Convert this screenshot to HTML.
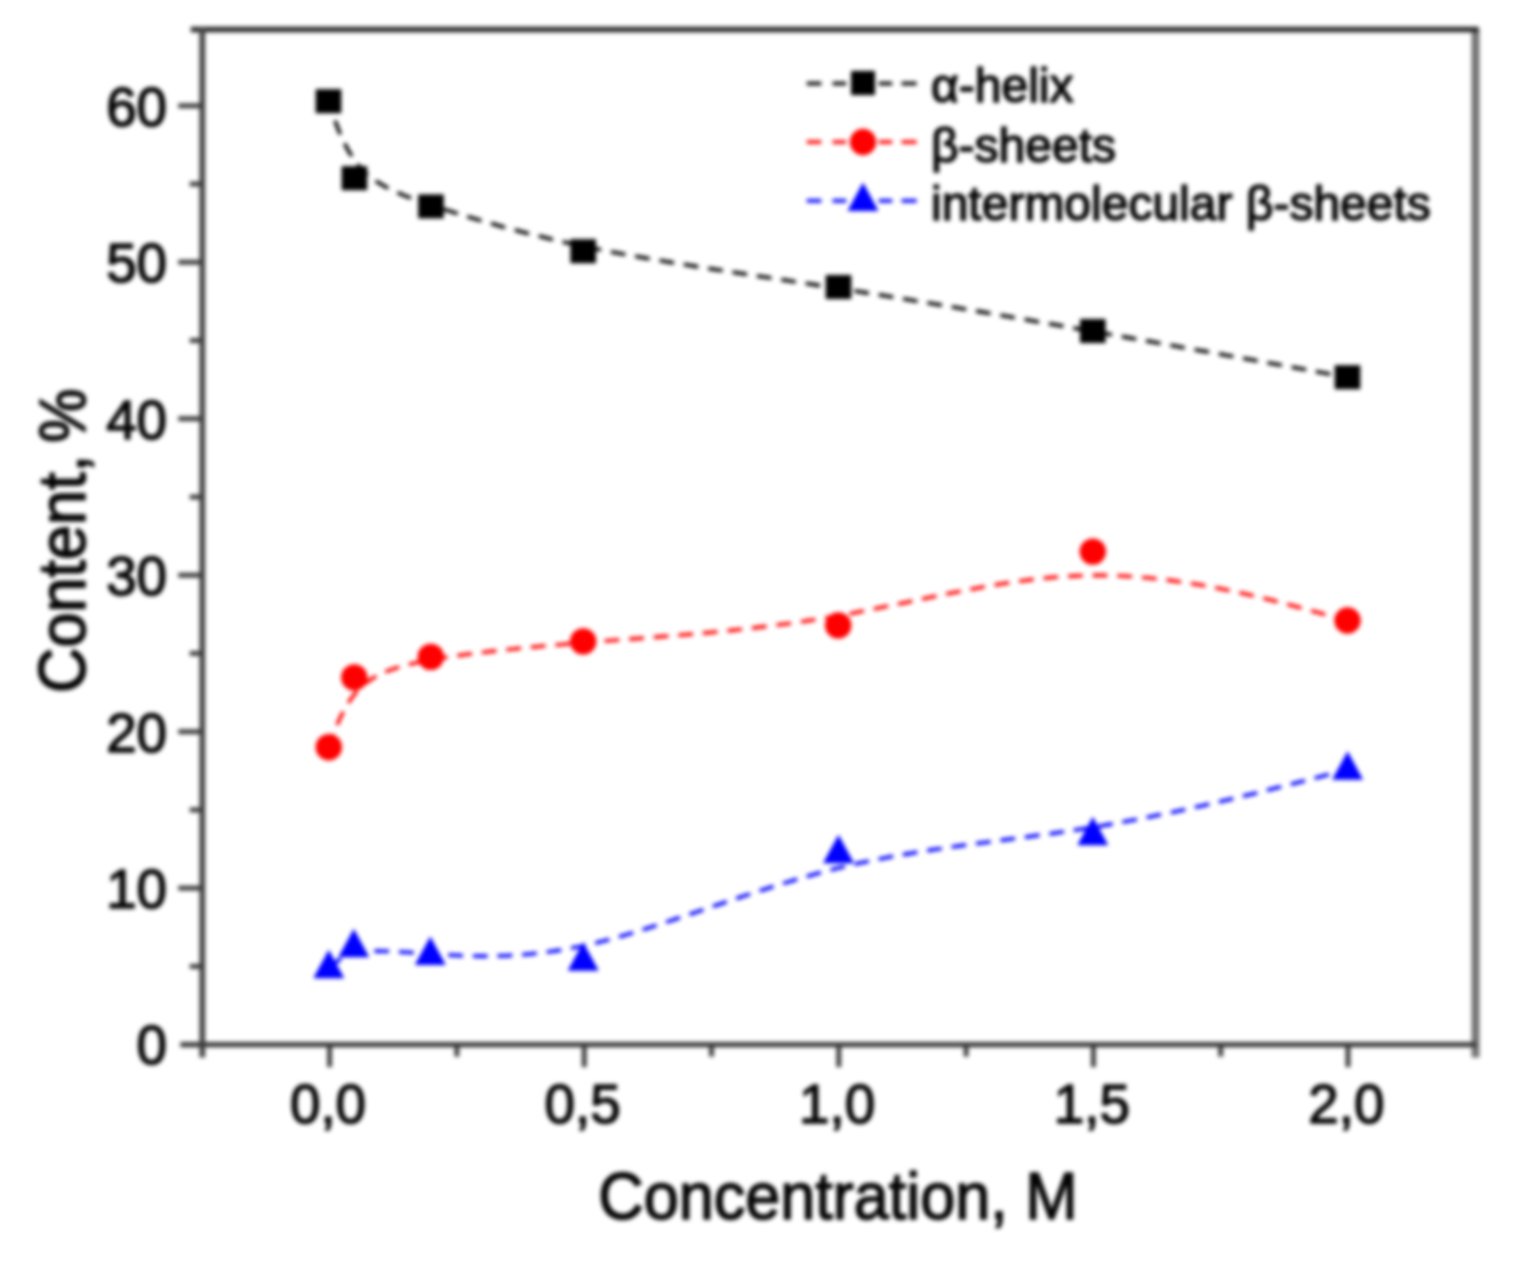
<!DOCTYPE html>
<html lang="en"><head><meta charset="utf-8"><title>Content vs Concentration</title>
<style>
html,body{margin:0;padding:0;background:#fff;}
body{width:1517px;height:1266px;overflow:hidden;}
svg{display:block;filter:blur(1.9px);}
text{font-family:"Liberation Sans",Arial,Helvetica,sans-serif;fill:#050505;stroke:#050505;stroke-width:1.5px;stroke-linejoin:round;}
.tk{font-size:54.8px;}
.ti{font-size:63px;}
.lg{font-size:48px;}
.t{stroke:#3a3a3a;stroke-width:4.8;fill:none;}
.c{fill:none;stroke-width:3.6;stroke-dasharray:14.6 10.06;}
</style></head><body>
<svg width="1517" height="1266" viewBox="0 0 1517 1266">
<rect x="-20" y="-20" width="1557" height="1306" fill="#fff"/>
<g id="axes" fill="none">
<line stroke="#747474" stroke-width="8" x1="1475.5" y1="29.5" x2="1475.5" y2="1057.6"/>
<line stroke="#2c2c2c" stroke-width="5.4" x1="190.8" y1="29.5" x2="1478.8" y2="29.5"/>
<line stroke="#444" stroke-width="5.8" x1="202.3" y1="28.0" x2="202.3" y2="1057.6"/>
<line stroke="#3c3c3c" stroke-width="5.4" x1="180.3" y1="1044.6" x2="1476.3" y2="1044.6"/>
</g>
<g id="ticks">
<line class="t" x1="189.8" y1="966.4" x2="202.3" y2="966.4"/>
<line class="t" x1="178.3" y1="888.1" x2="202.3" y2="888.1"/>
<line class="t" x1="189.8" y1="809.9" x2="202.3" y2="809.9"/>
<line class="t" x1="178.3" y1="731.7" x2="202.3" y2="731.7"/>
<line class="t" x1="189.8" y1="653.4" x2="202.3" y2="653.4"/>
<line class="t" x1="178.3" y1="575.2" x2="202.3" y2="575.2"/>
<line class="t" x1="189.8" y1="497.0" x2="202.3" y2="497.0"/>
<line class="t" x1="178.3" y1="418.7" x2="202.3" y2="418.7"/>
<line class="t" x1="189.8" y1="340.5" x2="202.3" y2="340.5"/>
<line class="t" x1="178.3" y1="262.2" x2="202.3" y2="262.2"/>
<line class="t" x1="189.8" y1="184.0" x2="202.3" y2="184.0"/>
<line class="t" x1="178.3" y1="105.8" x2="202.3" y2="105.8"/>
<line class="t" x1="329.6" y1="1044.6" x2="329.6" y2="1067.1"/>
<line class="t" x1="456.9" y1="1044.6" x2="456.9" y2="1056.6"/>
<line class="t" x1="584.2" y1="1044.6" x2="584.2" y2="1067.1"/>
<line class="t" x1="711.5" y1="1044.6" x2="711.5" y2="1056.6"/>
<line class="t" x1="838.8" y1="1044.6" x2="838.8" y2="1067.1"/>
<line class="t" x1="966.1" y1="1044.6" x2="966.1" y2="1056.6"/>
<line class="t" x1="1093.4" y1="1044.6" x2="1093.4" y2="1067.1"/>
<line class="t" x1="1220.7" y1="1044.6" x2="1220.7" y2="1056.6"/>
<line class="t" x1="1348.0" y1="1044.6" x2="1348.0" y2="1067.1"/>
</g>
<g id="ylabels" text-anchor="end">
<text class="tk" x="167.1" y="1064.4">0</text>
<text class="tk" x="167.1" y="907.9">10</text>
<text class="tk" x="167.1" y="751.5">20</text>
<text class="tk" x="167.1" y="595.0">30</text>
<text class="tk" x="167.1" y="438.5">40</text>
<text class="tk" x="167.1" y="282.0">50</text>
<text class="tk" x="167.1" y="125.6">60</text>
</g>
<g id="xlabels" text-anchor="middle">
<text class="tk" x="328.0" y="1122.8">0,0</text>
<text class="tk" x="582.6" y="1122.8">0,5</text>
<text class="tk" x="837.2" y="1122.8">1,0</text>
<text class="tk" x="1091.8" y="1122.8">1,5</text>
<text class="tk" x="1346.4" y="1122.8">2,0</text>
</g>
<text class="ti" text-anchor="middle" transform="translate(838.0 1218.5) scale(1 1.055)">Concentration, M</text>
<text class="ti" text-anchor="start" transform="translate(84.5 693.0) rotate(-90) scale(1 1.055)">Content, <tspan dx="-5.5" font-size="61">%</tspan></text>
<g id="curves">
<path class="c" stroke="#000" stroke-dashoffset="3.84" d="M328.5 101.2 L328.5 101.2 L328.5 101.2 L328.5 101.2 L328.5 101.2 L328.5 101.2 L328.5 101.2 L328.5 101.2 L328.5 101.2 L328.5 101.2 L328.5 101.3 L328.5 101.3 L328.5 101.3 L328.5 101.3 L328.6 101.4 L328.6 101.4 L328.6 101.4 L328.6 101.5 L328.6 101.5 L328.6 101.6 L328.7 101.7 L328.7 101.8 L328.7 101.8 L328.7 101.9 L328.8 102.0 L328.8 102.1 L328.9 102.2 L328.9 102.4 L328.9 102.5 L329.0 102.6 L329.0 102.8 L329.1 103.0 L329.2 103.1 L329.2 103.3 L329.3 103.5 L329.4 103.7 L329.4 104.0 L329.5 104.2 L329.6 104.5 L329.7 104.7 L329.8 105.0 L329.9 105.3 L330.0 105.6 L330.1 105.9 L330.2 106.3 L330.3 106.6 L330.4 107.0 L330.6 107.4 L330.7 107.8 L330.9 108.2 L331.0 108.6 L331.2 109.1 L331.3 109.6 L331.5 110.0 L331.6 110.6 L331.8 111.1 L332.0 111.6 L332.2 112.2 L332.4 112.8 L332.6 113.4 L332.8 114.0 L333.0 114.7 L333.3 115.4 L333.5 116.1 L333.7 116.8 L334.0 117.5 L334.2 118.2 L334.5 119.0 L334.8 119.8 L335.1 120.6 L335.4 121.4 L335.7 122.3 L336.0 123.1 L336.3 124.0 L336.6 124.8 L336.9 125.7 L337.3 126.6 L337.6 127.6 L338.0 128.5 L338.3 129.4 L338.7 130.4 L339.1 131.3 L339.5 132.3 L339.9 133.3 L340.3 134.3 L340.8 135.2 L341.2 136.2 L341.6 137.2 L342.1 138.3 L342.6 139.3 L343.0 140.3 L343.5 141.3 L344.0 142.3 L344.5 143.4 L345.1 144.4 L345.6 145.4 L346.1 146.5 L346.7 147.5 L347.3 148.5 L347.8 149.6 L348.4 150.6 L349.0 151.6 L349.6 152.7 L350.3 153.7 L350.9 154.7 L351.6 155.7 L352.2 156.7 L352.9 157.7 L353.6 158.7 L354.3 159.7 L355.0 160.7 L355.7 161.7 L356.5 162.7 L357.2 163.6 L358.0 164.6 L358.8 165.5 L359.5 166.5 L360.4 167.4 L361.2 168.3 L362.0 169.2 L362.8 170.1 L363.7 170.9 L364.6 171.8 L365.5 172.6 L366.4 173.5 L367.3 174.3 L368.2 175.1 L369.2 175.9 L370.1 176.7 L371.1 177.4 L372.1 178.2 L373.1 179.0 L374.1 179.7 L375.2 180.4 L376.2 181.2 L377.3 181.9 L378.4 182.6 L379.5 183.3 L380.6 183.9 L381.8 184.6 L382.9 185.3 L384.1 186.0 L385.3 186.6 L386.5 187.3 L387.7 187.9 L388.9 188.5 L390.2 189.2 L391.4 189.8 L392.7 190.4 L394.0 191.0 L395.3 191.6 L396.7 192.2 L398.0 192.8 L399.4 193.4 L400.8 194.0 L402.2 194.6 L403.6 195.2 L405.1 195.8 L406.5 196.4 L408.0 196.9 L409.5 197.5 L411.0 198.1 L412.6 198.7 L414.1 199.2 L415.7 199.8 L417.3 200.4 L418.9 201.0 L420.5 201.5 L422.2 202.1 L423.9 202.7 L425.6 203.3 L427.3 203.8 L429.0 204.4 L430.8 205.0 L432.5 205.6 L434.3 206.2 L436.1 206.8 L438.0 207.4 L439.8 208.0 L441.7 208.6 L443.6 209.2 L445.5 209.8 L447.5 210.4 L449.4 211.0 L451.4 211.6 L453.4 212.3 L455.4 212.9 L457.5 213.5 L459.5 214.2 L461.6 214.8 L463.7 215.5 L465.9 216.1 L468.0 216.8 L470.2 217.4 L472.4 218.1 L474.6 218.7 L476.9 219.4 L479.2 220.1 L481.4 220.7 L483.8 221.4 L486.1 222.1 L488.5 222.8 L490.9 223.5 L493.3 224.1 L495.7 224.8 L498.2 225.5 L500.6 226.2 L503.2 226.9 L505.7 227.6 L508.2 228.3 L510.8 229.0 L513.4 229.7 L516.1 230.3 L518.7 231.0 L521.4 231.7 L524.1 232.4 L526.8 233.1 L529.6 233.8 L532.4 234.5 L535.2 235.2 L538.0 235.9 L540.9 236.6 L543.8 237.3 L546.7 238.0 L549.6 238.7 L552.6 239.4 L555.6 240.1 L558.6 240.8 L561.7 241.5 L564.7 242.2 L567.8 242.9 L571.0 243.6 L574.1 244.3 L577.3 244.9 L580.5 245.6 L583.8 246.3 L587.0 247.0 L590.3 247.7 L593.6 248.4 L597.0 249.0 L600.4 249.7 L603.8 250.4 L607.2 251.0 L610.7 251.7 L614.2 252.4 L617.7 253.0 L621.3 253.7 L624.8 254.3 L628.4 255.0 L632.0 255.7 L635.7 256.3 L639.4 257.0 L643.1 257.6 L646.8 258.2 L650.5 258.9 L654.3 259.5 L658.1 260.2 L661.9 260.8 L665.7 261.5 L669.5 262.1 L673.4 262.7 L677.3 263.4 L681.2 264.0 L685.1 264.6 L689.0 265.3 L693.0 265.9 L696.9 266.6 L700.9 267.2 L704.9 267.8 L708.9 268.5 L713.0 269.1 L717.0 269.7 L721.1 270.3 L725.2 271.0 L729.2 271.6 L733.3 272.2 L737.4 272.9 L741.6 273.5 L745.7 274.1 L749.8 274.8 L754.0 275.4 L758.1 276.1 L762.3 276.7 L766.5 277.3 L770.7 278.0 L774.9 278.6 L779.1 279.2 L783.3 279.9 L787.5 280.5 L791.7 281.2 L795.9 281.8 L800.2 282.5 L804.4 283.1 L808.6 283.8 L812.9 284.4 L817.1 285.1 L821.3 285.7 L825.6 286.4 L829.8 287.0 L834.1 287.7 L838.3 288.4 L842.6 289.0 L846.8 289.7 L851.1 290.4 L855.3 291.0 L859.6 291.7 L863.8 292.4 L868.1 293.1 L872.3 293.8 L876.5 294.4 L880.8 295.1 L885.0 295.8 L889.3 296.5 L893.5 297.2 L897.8 297.9 L902.0 298.6 L906.2 299.3 L910.5 300.0 L914.7 300.7 L919.0 301.4 L923.2 302.1 L927.5 302.8 L931.7 303.5 L935.9 304.2 L940.2 304.9 L944.4 305.6 L948.7 306.3 L952.9 307.1 L957.2 307.8 L961.4 308.5 L965.6 309.2 L969.9 309.9 L974.1 310.7 L978.4 311.4 L982.6 312.1 L986.8 312.8 L991.1 313.6 L995.3 314.3 L999.6 315.0 L1003.8 315.8 L1008.0 316.5 L1012.3 317.2 L1016.5 318.0 L1020.8 318.7 L1025.0 319.4 L1029.3 320.2 L1033.5 320.9 L1037.7 321.7 L1042.0 322.4 L1046.2 323.1 L1050.5 323.9 L1054.7 324.6 L1058.9 325.4 L1063.2 326.1 L1067.4 326.9 L1071.7 327.6 L1075.9 328.4 L1080.1 329.1 L1084.4 329.9 L1088.6 330.6 L1092.9 331.4 L1097.1 332.1 L1101.3 332.9 L1105.6 333.6 L1109.8 334.4 L1114.1 335.1 L1118.3 335.9 L1122.5 336.6 L1126.7 337.4 L1130.9 338.1 L1135.1 338.9 L1139.3 339.6 L1143.4 340.4 L1147.6 341.1 L1151.7 341.8 L1155.8 342.6 L1159.9 343.3 L1164.0 344.0 L1168.1 344.8 L1172.1 345.5 L1176.1 346.2 L1180.1 346.9 L1184.1 347.7 L1188.1 348.4 L1192.0 349.1 L1195.9 349.8 L1199.7 350.5 L1203.6 351.1 L1207.4 351.8 L1211.1 352.5 L1214.9 353.2 L1218.5 353.8 L1222.2 354.5 L1225.8 355.2 L1229.4 355.8 L1233.0 356.4 L1236.5 357.1 L1239.9 357.7 L1243.3 358.3 L1246.7 358.9 L1250.0 359.5 L1253.3 360.1 L1256.5 360.7 L1259.7 361.3 L1262.8 361.9 L1265.9 362.4 L1268.9 363.0 L1271.9 363.5 L1274.8 364.0 L1277.7 364.5 L1280.5 365.0 L1283.2 365.5 L1285.9 366.0 L1288.5 366.5 L1291.1 367.0 L1293.6 367.4 L1296.0 367.9 L1298.4 368.3 L1300.7 368.7 L1302.9 369.1 L1305.0 369.5 L1307.1 369.9 L1309.2 370.2 L1311.1 370.6 L1313.0 370.9 L1314.8 371.3 L1316.6 371.6 L1318.2 371.9 L1319.9 372.2 L1321.4 372.5 L1322.9 372.7 L1324.4 373.0 L1325.8 373.3 L1327.1 373.5 L1328.4 373.7 L1329.6 374.0 L1330.8 374.2 L1331.9 374.4 L1332.9 374.6 L1334.0 374.7 L1334.9 374.9 L1335.8 375.1 L1336.7 375.2 L1337.5 375.4 L1338.3 375.5 L1339.1 375.7 L1339.8 375.8 L1340.4 375.9 L1341.1 376.0 L1341.6 376.1 L1342.2 376.2 L1342.7 376.3 L1343.2 376.4 L1343.6 376.5 L1344.0 376.6 L1344.4 376.6 L1344.8 376.7 L1345.1 376.8 L1345.4 376.8 L1345.7 376.9 L1345.9 376.9 L1346.2 377.0 L1346.4 377.0 L1346.5 377.0 L1346.7 377.1 L1346.8 377.1 L1347.0 377.1 L1347.1 377.1 L1347.2 377.1 L1347.2 377.2 L1347.3 377.2 L1347.4 377.2 L1347.4 377.2 L1347.4 377.2 L1347.5 377.2 L1347.5 377.2 L1347.5 377.2 L1347.5 377.2 L1347.5 377.2 L1347.5 377.2 L1347.5 377.2"/>
<path class="c" stroke="#f00" stroke-dashoffset="0.4" d="M328.8 747.2 L328.8 747.2 L328.8 747.2 L328.8 747.2 L328.8 747.2 L328.8 747.2 L328.8 747.2 L328.8 747.2 L328.8 747.2 L328.8 747.2 L328.8 747.1 L328.8 747.1 L328.8 747.1 L328.8 747.1 L328.9 747.1 L328.9 747.0 L328.9 747.0 L328.9 746.9 L328.9 746.9 L328.9 746.8 L329.0 746.8 L329.0 746.7 L329.0 746.6 L329.0 746.5 L329.1 746.5 L329.1 746.4 L329.1 746.3 L329.2 746.1 L329.2 746.0 L329.3 745.9 L329.3 745.7 L329.4 745.6 L329.4 745.4 L329.5 745.3 L329.6 745.1 L329.6 744.9 L329.7 744.7 L329.8 744.5 L329.9 744.2 L330.0 744.0 L330.1 743.8 L330.2 743.5 L330.3 743.2 L330.4 742.9 L330.5 742.6 L330.6 742.3 L330.7 742.0 L330.8 741.6 L331.0 741.2 L331.1 740.9 L331.3 740.5 L331.4 740.1 L331.6 739.6 L331.7 739.2 L331.9 738.7 L332.1 738.2 L332.3 737.7 L332.4 737.2 L332.6 736.7 L332.8 736.1 L333.1 735.6 L333.3 735.0 L333.5 734.4 L333.7 733.7 L334.0 733.1 L334.2 732.4 L334.5 731.7 L334.7 731.1 L335.0 730.3 L335.3 729.6 L335.5 728.9 L335.8 728.1 L336.1 727.3 L336.5 726.6 L336.8 725.8 L337.1 725.0 L337.4 724.2 L337.8 723.3 L338.1 722.5 L338.5 721.6 L338.9 720.8 L339.3 719.9 L339.6 719.1 L340.1 718.2 L340.5 717.3 L340.9 716.4 L341.3 715.5 L341.8 714.6 L342.2 713.7 L342.7 712.8 L343.1 711.9 L343.6 711.0 L344.1 710.0 L344.6 709.1 L345.1 708.2 L345.7 707.3 L346.2 706.4 L346.8 705.4 L347.3 704.5 L347.9 703.6 L348.5 702.7 L349.1 701.8 L349.7 700.8 L350.3 699.9 L350.9 699.0 L351.6 698.1 L352.2 697.2 L352.9 696.4 L353.6 695.5 L354.3 694.6 L355.0 693.7 L355.7 692.9 L356.4 692.0 L357.2 691.2 L358.0 690.4 L358.7 689.5 L359.5 688.7 L360.3 687.9 L361.1 687.1 L362.0 686.4 L362.8 685.6 L363.7 684.9 L364.5 684.1 L365.4 683.4 L366.3 682.7 L367.2 682.0 L368.2 681.3 L369.1 680.7 L370.1 680.0 L371.0 679.4 L372.0 678.7 L373.0 678.1 L374.1 677.5 L375.1 676.9 L376.1 676.3 L377.2 675.8 L378.3 675.2 L379.4 674.6 L380.5 674.1 L381.6 673.6 L382.8 673.0 L384.0 672.5 L385.1 672.0 L386.3 671.5 L387.5 671.0 L388.8 670.5 L390.0 670.1 L391.3 669.6 L392.6 669.2 L393.9 668.7 L395.2 668.3 L396.5 667.9 L397.9 667.4 L399.3 667.0 L400.6 666.6 L402.1 666.2 L403.5 665.8 L404.9 665.4 L406.4 665.0 L407.9 664.7 L409.4 664.3 L410.9 663.9 L412.4 663.6 L414.0 663.2 L415.5 662.9 L417.1 662.5 L418.8 662.2 L420.4 661.8 L422.0 661.5 L423.7 661.2 L425.4 660.8 L427.1 660.5 L428.9 660.2 L430.6 659.9 L432.4 659.6 L434.2 659.3 L436.0 658.9 L437.8 658.6 L439.7 658.3 L441.6 658.0 L443.4 657.7 L445.4 657.4 L447.3 657.1 L449.3 656.8 L451.2 656.5 L453.3 656.3 L455.3 656.0 L457.3 655.7 L459.4 655.4 L461.5 655.1 L463.6 654.8 L465.7 654.5 L467.9 654.2 L470.1 653.9 L472.3 653.7 L474.5 653.4 L476.8 653.1 L479.0 652.8 L481.3 652.5 L483.6 652.3 L486.0 652.0 L488.3 651.7 L490.7 651.4 L493.1 651.1 L495.6 650.9 L498.0 650.6 L500.5 650.3 L503.0 650.1 L505.6 649.8 L508.1 649.5 L510.7 649.2 L513.3 649.0 L516.0 648.7 L518.6 648.4 L521.3 648.2 L524.0 647.9 L526.7 647.6 L529.5 647.4 L532.3 647.1 L535.1 646.8 L537.9 646.6 L540.8 646.3 L543.7 646.0 L546.6 645.8 L549.5 645.5 L552.5 645.3 L555.5 645.0 L558.5 644.7 L561.6 644.5 L564.7 644.2 L567.8 643.9 L570.9 643.7 L574.0 643.4 L577.2 643.2 L580.4 642.9 L583.7 642.6 L586.9 642.4 L590.2 642.1 L593.6 641.8 L596.9 641.6 L600.3 641.3 L603.7 641.1 L607.1 640.8 L610.6 640.5 L614.1 640.3 L617.6 640.0 L621.2 639.7 L624.7 639.5 L628.3 639.2 L632.0 638.9 L635.6 638.6 L639.3 638.4 L643.0 638.1 L646.7 637.8 L650.4 637.5 L654.2 637.2 L657.9 636.9 L661.7 636.6 L665.6 636.3 L669.4 636.0 L673.3 635.7 L677.1 635.4 L681.0 635.0 L685.0 634.7 L688.9 634.4 L692.8 634.0 L696.8 633.7 L700.8 633.3 L704.8 632.9 L708.8 632.6 L712.8 632.2 L716.9 631.8 L720.9 631.4 L725.0 631.0 L729.1 630.6 L733.2 630.1 L737.3 629.7 L741.4 629.3 L745.5 628.8 L749.7 628.4 L753.8 627.9 L758.0 627.4 L762.1 626.9 L766.3 626.4 L770.5 625.9 L774.7 625.3 L778.9 624.8 L783.1 624.2 L787.3 623.7 L791.5 623.1 L795.7 622.5 L800.0 621.9 L804.2 621.3 L808.4 620.6 L812.7 620.0 L816.9 619.3 L821.2 618.6 L825.4 617.9 L829.6 617.2 L833.9 616.5 L838.1 615.8 L842.4 615.0 L846.6 614.2 L850.9 613.5 L855.1 612.7 L859.4 611.8 L863.6 611.0 L867.9 610.2 L872.1 609.3 L876.3 608.5 L880.6 607.6 L884.8 606.8 L889.1 605.9 L893.3 605.0 L897.6 604.1 L901.8 603.3 L906.1 602.4 L910.3 601.5 L914.6 600.6 L918.8 599.7 L923.0 598.8 L927.3 597.9 L931.5 597.1 L935.8 596.2 L940.0 595.3 L944.3 594.5 L948.5 593.6 L952.8 592.8 L957.0 591.9 L961.2 591.1 L965.5 590.3 L969.7 589.5 L974.0 588.7 L978.2 587.9 L982.5 587.1 L986.7 586.4 L991.0 585.6 L995.2 584.9 L999.4 584.2 L1003.7 583.5 L1007.9 582.9 L1012.2 582.3 L1016.4 581.6 L1020.7 581.0 L1024.9 580.5 L1029.2 579.9 L1033.4 579.4 L1037.6 578.9 L1041.9 578.5 L1046.1 578.0 L1050.4 577.6 L1054.6 577.2 L1058.9 576.9 L1063.1 576.6 L1067.4 576.3 L1071.6 576.1 L1075.8 575.9 L1080.1 575.7 L1084.3 575.5 L1088.6 575.4 L1092.8 575.4 L1097.1 575.4 L1101.3 575.4 L1105.5 575.4 L1109.8 575.5 L1114.0 575.7 L1118.2 575.8 L1122.5 576.0 L1126.7 576.2 L1130.9 576.5 L1135.1 576.8 L1139.2 577.1 L1143.4 577.5 L1147.6 577.8 L1151.7 578.2 L1155.8 578.7 L1159.9 579.1 L1164.0 579.6 L1168.1 580.1 L1172.1 580.6 L1176.1 581.2 L1180.1 581.8 L1184.1 582.3 L1188.0 582.9 L1192.0 583.6 L1195.9 584.2 L1199.7 584.8 L1203.5 585.5 L1207.3 586.2 L1211.1 586.9 L1214.8 587.6 L1218.5 588.3 L1222.2 589.0 L1225.8 589.8 L1229.4 590.5 L1233.0 591.2 L1236.5 592.0 L1239.9 592.7 L1243.3 593.5 L1246.7 594.3 L1250.0 595.0 L1253.3 595.8 L1256.5 596.5 L1259.7 597.3 L1262.8 598.0 L1265.9 598.8 L1268.9 599.6 L1271.9 600.3 L1274.8 601.0 L1277.7 601.8 L1280.5 602.5 L1283.2 603.2 L1285.9 603.9 L1288.5 604.6 L1291.1 605.3 L1293.6 605.9 L1296.0 606.6 L1298.4 607.2 L1300.7 607.8 L1302.9 608.4 L1305.0 609.0 L1307.1 609.6 L1309.2 610.1 L1311.1 610.7 L1313.0 611.2 L1314.8 611.7 L1316.6 612.1 L1318.2 612.6 L1319.9 613.0 L1321.4 613.4 L1322.9 613.9 L1324.4 614.2 L1325.8 614.6 L1327.1 615.0 L1328.4 615.3 L1329.6 615.7 L1330.8 616.0 L1331.9 616.3 L1332.9 616.6 L1334.0 616.8 L1334.9 617.1 L1335.8 617.3 L1336.7 617.6 L1337.5 617.8 L1338.3 618.0 L1339.1 618.2 L1339.8 618.4 L1340.4 618.6 L1341.1 618.8 L1341.6 618.9 L1342.2 619.1 L1342.7 619.2 L1343.2 619.3 L1343.6 619.5 L1344.0 619.6 L1344.4 619.7 L1344.8 619.8 L1345.1 619.9 L1345.4 619.9 L1345.7 620.0 L1345.9 620.1 L1346.2 620.1 L1346.4 620.2 L1346.5 620.2 L1346.7 620.3 L1346.8 620.3 L1347.0 620.4 L1347.1 620.4 L1347.2 620.4 L1347.2 620.4 L1347.3 620.4 L1347.4 620.5 L1347.4 620.5 L1347.4 620.5 L1347.5 620.5 L1347.5 620.5 L1347.5 620.5 L1347.5 620.5 L1347.5 620.5 L1347.5 620.5 L1347.5 620.5"/>
<path class="c" stroke="#00f" stroke-dashoffset="-1.4" d="M328.8 968.2 L328.8 968.2 L328.8 968.2 L328.8 968.2 L328.8 968.2 L328.8 968.2 L328.8 968.2 L328.8 968.2 L328.8 968.2 L328.8 968.2 L328.8 968.2 L328.8 968.2 L328.8 968.2 L328.8 968.2 L328.9 968.2 L328.9 968.1 L328.9 968.1 L328.9 968.1 L328.9 968.1 L328.9 968.1 L329.0 968.1 L329.0 968.0 L329.0 968.0 L329.0 968.0 L329.1 968.0 L329.1 967.9 L329.1 967.9 L329.2 967.9 L329.2 967.8 L329.3 967.8 L329.3 967.8 L329.4 967.7 L329.4 967.7 L329.5 967.6 L329.6 967.6 L329.6 967.5 L329.7 967.4 L329.8 967.4 L329.9 967.3 L329.9 967.2 L330.0 967.2 L330.1 967.1 L330.2 967.0 L330.3 966.9 L330.4 966.8 L330.6 966.7 L330.7 966.6 L330.8 966.5 L330.9 966.4 L331.1 966.3 L331.2 966.2 L331.4 966.0 L331.5 965.9 L331.7 965.8 L331.8 965.6 L332.0 965.5 L332.2 965.3 L332.4 965.2 L332.6 965.0 L332.8 964.9 L333.0 964.7 L333.2 964.5 L333.4 964.3 L333.6 964.1 L333.9 963.9 L334.1 963.7 L334.3 963.5 L334.6 963.3 L334.9 963.1 L335.1 962.9 L335.4 962.7 L335.7 962.4 L336.0 962.2 L336.3 962.0 L336.6 961.8 L336.9 961.5 L337.3 961.3 L337.6 961.0 L338.0 960.8 L338.3 960.5 L338.7 960.3 L339.1 960.1 L339.4 959.8 L339.8 959.6 L340.2 959.3 L340.7 959.1 L341.1 958.8 L341.5 958.6 L342.0 958.3 L342.4 958.1 L342.9 957.8 L343.4 957.6 L343.9 957.3 L344.4 957.1 L344.9 956.8 L345.4 956.6 L345.9 956.4 L346.5 956.1 L347.0 955.9 L347.6 955.7 L348.2 955.4 L348.8 955.2 L349.4 955.0 L350.0 954.8 L350.6 954.6 L351.2 954.4 L351.9 954.2 L352.6 954.0 L353.2 953.8 L353.9 953.6 L354.6 953.4 L355.3 953.2 L356.1 953.1 L356.8 952.9 L357.6 952.7 L358.3 952.6 L359.1 952.4 L359.9 952.3 L360.7 952.2 L361.5 952.0 L362.4 951.9 L363.2 951.8 L364.1 951.7 L365.0 951.6 L365.9 951.6 L366.8 951.5 L367.7 951.4 L368.7 951.4 L369.6 951.3 L370.6 951.3 L371.6 951.2 L372.6 951.2 L373.6 951.2 L374.6 951.1 L375.7 951.1 L376.7 951.1 L377.8 951.1 L378.9 951.1 L380.0 951.1 L381.2 951.1 L382.3 951.2 L383.5 951.2 L384.7 951.2 L385.9 951.2 L387.1 951.3 L388.3 951.3 L389.5 951.4 L390.8 951.4 L392.1 951.5 L393.4 951.5 L394.7 951.6 L396.1 951.7 L397.4 951.7 L398.8 951.8 L400.2 951.9 L401.6 952.0 L403.0 952.1 L404.4 952.2 L405.9 952.2 L407.4 952.3 L408.9 952.4 L410.4 952.5 L411.9 952.6 L413.5 952.7 L415.1 952.8 L416.7 952.9 L418.3 953.1 L419.9 953.2 L421.6 953.3 L423.3 953.4 L425.0 953.5 L426.7 953.6 L428.4 953.7 L430.2 953.8 L431.9 953.9 L433.7 954.1 L435.6 954.2 L437.4 954.3 L439.3 954.4 L441.1 954.5 L443.0 954.6 L445.0 954.7 L446.9 954.9 L448.9 955.0 L450.9 955.1 L452.9 955.2 L454.9 955.3 L456.9 955.4 L459.0 955.5 L461.1 955.6 L463.2 955.7 L465.4 955.7 L467.5 955.8 L469.7 955.9 L471.9 955.9 L474.2 956.0 L476.4 956.0 L478.7 956.1 L481.0 956.1 L483.3 956.1 L485.7 956.1 L488.0 956.1 L490.4 956.1 L492.9 956.0 L495.3 956.0 L497.8 955.9 L500.3 955.9 L502.8 955.8 L505.3 955.7 L507.9 955.6 L510.5 955.4 L513.1 955.3 L515.7 955.1 L518.4 955.0 L521.1 954.8 L523.8 954.6 L526.5 954.3 L529.3 954.1 L532.1 953.8 L534.9 953.5 L537.8 953.2 L540.6 952.9 L543.5 952.5 L546.4 952.1 L549.4 951.7 L552.4 951.3 L555.4 950.9 L558.4 950.4 L561.5 949.9 L564.5 949.4 L567.7 948.8 L570.8 948.2 L574.0 947.6 L577.1 947.0 L580.4 946.4 L583.6 945.7 L586.9 945.0 L590.2 944.2 L593.5 943.5 L596.9 942.7 L600.3 941.8 L603.7 941.0 L607.1 940.1 L610.6 939.1 L614.1 938.2 L617.6 937.2 L621.2 936.2 L624.7 935.2 L628.3 934.1 L632.0 933.0 L635.6 931.9 L639.3 930.8 L643.0 929.6 L646.7 928.5 L650.5 927.3 L654.2 926.1 L658.0 924.8 L661.8 923.6 L665.6 922.3 L669.5 921.1 L673.4 919.8 L677.2 918.5 L681.1 917.2 L685.1 915.9 L689.0 914.5 L693.0 913.2 L696.9 911.9 L700.9 910.5 L704.9 909.1 L708.9 907.8 L713.0 906.4 L717.0 905.0 L721.1 903.7 L725.1 902.3 L729.2 900.9 L733.3 899.5 L737.4 898.2 L741.6 896.8 L745.7 895.4 L749.8 894.1 L754.0 892.7 L758.1 891.3 L762.3 890.0 L766.5 888.7 L770.7 887.3 L774.9 886.0 L779.1 884.7 L783.3 883.4 L787.5 882.1 L791.7 880.9 L795.9 879.6 L800.2 878.4 L804.4 877.1 L808.6 875.9 L812.9 874.7 L817.1 873.6 L821.3 872.4 L825.6 871.3 L829.8 870.2 L834.1 869.1 L838.3 868.0 L842.6 867.0 L846.8 866.0 L851.1 865.0 L855.3 864.1 L859.6 863.1 L863.8 862.2 L868.1 861.3 L872.3 860.4 L876.5 859.6 L880.8 858.7 L885.0 857.9 L889.3 857.1 L893.5 856.3 L897.8 855.6 L902.0 854.8 L906.2 854.1 L910.5 853.4 L914.7 852.6 L919.0 851.9 L923.2 851.3 L927.5 850.6 L931.7 849.9 L935.9 849.3 L940.2 848.7 L944.4 848.0 L948.7 847.4 L952.9 846.8 L957.2 846.2 L961.4 845.6 L965.6 845.0 L969.9 844.4 L974.1 843.9 L978.4 843.3 L982.6 842.7 L986.8 842.2 L991.1 841.6 L995.3 841.0 L999.6 840.5 L1003.8 839.9 L1008.1 839.4 L1012.3 838.8 L1016.5 838.3 L1020.8 837.7 L1025.0 837.1 L1029.3 836.6 L1033.5 836.0 L1037.7 835.4 L1042.0 834.8 L1046.2 834.3 L1050.5 833.7 L1054.7 833.1 L1058.9 832.5 L1063.2 831.8 L1067.4 831.2 L1071.7 830.6 L1075.9 829.9 L1080.2 829.3 L1084.4 828.6 L1088.6 828.0 L1092.9 827.3 L1097.1 826.6 L1101.4 825.9 L1105.6 825.1 L1109.8 824.4 L1114.1 823.6 L1118.3 822.9 L1122.5 822.1 L1126.7 821.3 L1130.9 820.5 L1135.1 819.7 L1139.3 818.9 L1143.5 818.1 L1147.6 817.3 L1151.8 816.5 L1155.9 815.6 L1160.0 814.8 L1164.1 814.0 L1168.1 813.1 L1172.2 812.3 L1176.2 811.4 L1180.2 810.6 L1184.2 809.7 L1188.1 808.8 L1192.0 808.0 L1195.9 807.1 L1199.8 806.3 L1203.6 805.4 L1207.4 804.5 L1211.2 803.7 L1214.9 802.8 L1218.6 802.0 L1222.3 801.1 L1225.9 800.3 L1229.5 799.4 L1233.0 798.6 L1236.5 797.8 L1240.0 796.9 L1243.4 796.1 L1246.8 795.3 L1250.1 794.5 L1253.4 793.7 L1256.6 792.9 L1259.8 792.1 L1262.9 791.3 L1266.0 790.6 L1269.0 789.8 L1272.0 789.1 L1274.9 788.3 L1277.8 787.6 L1280.6 786.9 L1283.3 786.2 L1286.0 785.5 L1288.6 784.9 L1291.2 784.2 L1293.7 783.6 L1296.1 782.9 L1298.5 782.3 L1300.7 781.7 L1303.0 781.2 L1305.1 780.6 L1307.2 780.1 L1309.2 779.6 L1311.2 779.1 L1313.1 778.6 L1314.9 778.1 L1316.6 777.7 L1318.3 777.2 L1320.0 776.8 L1321.5 776.4 L1323.0 776.0 L1324.5 775.6 L1325.9 775.3 L1327.2 774.9 L1328.5 774.6 L1329.7 774.3 L1330.9 774.0 L1332.0 773.7 L1333.0 773.4 L1334.0 773.2 L1335.0 772.9 L1335.9 772.7 L1336.8 772.5 L1337.6 772.3 L1338.4 772.1 L1339.2 771.9 L1339.9 771.7 L1340.5 771.5 L1341.2 771.4 L1341.7 771.2 L1342.3 771.1 L1342.8 770.9 L1343.3 770.8 L1343.7 770.7 L1344.1 770.6 L1344.5 770.5 L1344.9 770.4 L1345.2 770.3 L1345.5 770.2 L1345.8 770.2 L1346.0 770.1 L1346.3 770.0 L1346.5 770.0 L1346.6 769.9 L1346.8 769.9 L1346.9 769.9 L1347.1 769.8 L1347.2 769.8 L1347.3 769.8 L1347.3 769.8 L1347.4 769.8 L1347.5 769.7 L1347.5 769.7 L1347.5 769.7 L1347.6 769.7 L1347.6 769.7 L1347.6 769.7 L1347.6 769.7 L1347.6 769.7 L1347.6 769.7 L1347.6 769.7"/>
</g>
<g id="markers">
<rect x="315.7" y="89.2" width="25.6" height="24.0" fill="#000"/>
<rect x="341.6" y="166.2" width="25.6" height="24.0" fill="#000"/>
<rect x="418.2" y="194.4" width="25.6" height="24.0" fill="#000"/>
<rect x="570.4" y="239.2" width="25.6" height="24.0" fill="#000"/>
<rect x="825.7" y="275.0" width="25.6" height="24.0" fill="#000"/>
<rect x="1080.0" y="319.0" width="25.6" height="24.0" fill="#000"/>
<rect x="1334.7" y="365.2" width="25.6" height="24.0" fill="#000"/>
<circle cx="328.8" cy="747.2" r="13.2" fill="#f00"/>
<circle cx="354.3" cy="677.4" r="13.2" fill="#f00"/>
<circle cx="430.8" cy="656.9" r="13.2" fill="#f00"/>
<circle cx="583.2" cy="641.4" r="13.2" fill="#f00"/>
<circle cx="838.2" cy="625.4" r="13.2" fill="#f00"/>
<circle cx="1092.8" cy="551.6" r="13.2" fill="#f00"/>
<circle cx="1347.5" cy="620.5" r="13.2" fill="#f00"/>
<polygon points="328.8,949.8 344.3,978.3 313.3,978.3" fill="#00f"/>
<polygon points="353.8,928.7 369.3,957.2 338.3,957.2" fill="#00f"/>
<polygon points="430.3,936.6 445.8,965.1 414.8,965.1" fill="#00f"/>
<polygon points="583.2,942.3 598.7,970.8 567.7,970.8" fill="#00f"/>
<polygon points="838.5,834.7 854.0,863.2 823.0,863.2" fill="#00f"/>
<polygon points="1092.8,816.8 1108.3,845.3 1077.3,845.3" fill="#00f"/>
<polygon points="1347.6,751.3 1363.1,779.8 1332.1,779.8" fill="#00f"/>
</g>
<g id="legend">
<line stroke="#000" stroke-width="3.6" x1="806.8" y1="83.5" x2="821.3" y2="83.5"/>
<line stroke="#000" stroke-width="3.6" x1="832.6" y1="83.5" x2="846.2" y2="83.5"/>
<line stroke="#000" stroke-width="3.6" x1="878.8" y1="83.5" x2="892.2" y2="83.5"/>
<line stroke="#000" stroke-width="3.6" x1="901.6" y1="83.5" x2="916.6" y2="83.5"/>
<rect x="851.0" y="70.9" width="24" height="24.2" fill="#000"/>
<text class="lg" x="931.0" y="102.3">α-helix</text>
<line stroke="#f00" stroke-width="3.6" x1="806.8" y1="142.0" x2="821.3" y2="142.0"/>
<line stroke="#f00" stroke-width="3.6" x1="832.6" y1="142.0" x2="846.2" y2="142.0"/>
<line stroke="#f00" stroke-width="3.6" x1="878.8" y1="142.0" x2="892.2" y2="142.0"/>
<line stroke="#f00" stroke-width="3.6" x1="901.6" y1="142.0" x2="916.6" y2="142.0"/>
<circle cx="863.0" cy="142.0" r="13.2" fill="#f00"/>
<text class="lg" x="931.0" y="161.8">β-sheets</text>
<line stroke="#00f" stroke-width="3.6" x1="806.8" y1="200.8" x2="821.3" y2="200.8"/>
<line stroke="#00f" stroke-width="3.6" x1="832.6" y1="200.8" x2="846.2" y2="200.8"/>
<line stroke="#00f" stroke-width="3.6" x1="878.8" y1="200.8" x2="892.2" y2="200.8"/>
<line stroke="#00f" stroke-width="3.6" x1="901.6" y1="200.8" x2="916.6" y2="200.8"/>
<polygon points="863.0,182.6 878.5,211.1 847.5,211.1" fill="#00f"/>
<text class="lg" x="931.0" y="220.3">intermolecular β-sheets</text>
</g>
</svg>
</body></html>
